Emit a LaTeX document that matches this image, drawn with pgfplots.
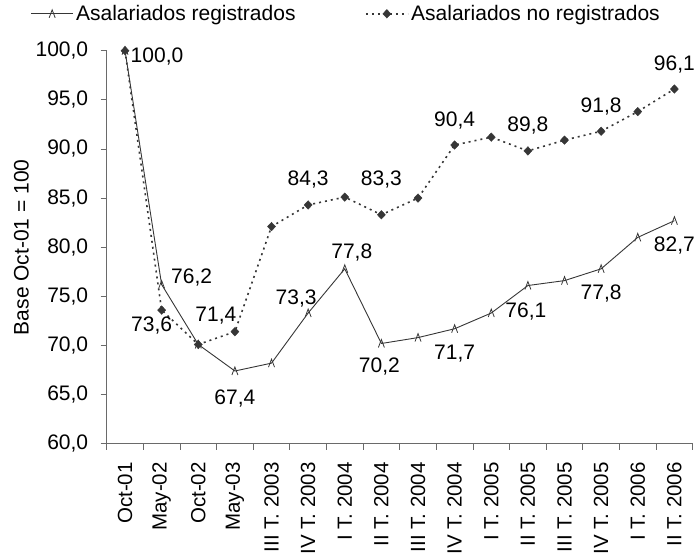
\documentclass[border=0pt]{standalone}
\usepackage{pgfplots}
\usepackage{pgfplotstable}
\usepackage{fontspec}
\setmainfont{Liberation Sans}
\pgfplotsset{compat=1.18}

\definecolor{lineg}{HTML}{363636}
\definecolor{axisg}{HTML}{6A6A6A}

% small open caret used for the registered series
\pgfdeclareplotmark{caret}{%
  \pgfpathmoveto{\pgfqpoint{-0.75\pgfplotmarksize}{-\pgfplotmarksize}}%
  \pgfpathlineto{\pgfqpoint{0pt}{\pgfplotmarksize}}%
  \pgfpathlineto{\pgfqpoint{0.75\pgfplotmarksize}{-\pgfplotmarksize}}%
  \pgfusepathqstroke}

% x = category, lab = data label ({} = none), dx/dy = label offset (pt)
\pgfplotstableread{
x  y     lab     dx   dy
0  100.0 {100,0} 32   -6
1  76.2  {76,2}  30   7
2  70.1  {}      0    0
3  67.4  {67,4}  0    -28
4  68.2  {}      0    0
5  73.3  {73,3}  -12  15
6  77.8  {77,8}  7    16
7  70.2  {70,2}  -2   -23
8  70.8  {}      0    0
9  71.7  {71,7}  0    -25
10 73.3  {}      0    0
11 76.1  {76,1}  -2   -26
12 76.6  {}      0    0
13 77.8  {77,8}  0    -25
14 81.0  {}      0    0
15 82.7  {82,7}  0    -25
}\registrados

\pgfplotstableread{
x  y     lab     dx   dy
0  100.0 {}      0    0
1  73.6  {73,6}  -10  -15
2  70.1  {}      0    0
3  71.4  {71,4}  -19  16
4  82.1  {}      0    0
5  84.3  {84,3}  0    25
6  85.1  {}      0    0
7  83.3  {83,3}  0    35
8  85.0  {}      0    0
9  90.4  {90,4}  0    25
10 91.2  {}      0    0
11 89.8  {89,8}  0    25
12 90.9  {}      0    0
13 91.8  {91,8}  0    25
14 93.8  {}      0    0
15 96.1  {96,1}  0    25
}\noregistrados

\begin{document}
\begin{tikzpicture}[font=\fontsize{21}{25}\selectfont]
\begin{axis}[
  width=586pt, height=393pt, scale only axis,
  xmin=-0.5, xmax=15.5, ymin=60, ymax=100,
  clip=false,
  axis x line*=bottom, axis y line*=left,
  axis line style={axisg, line width=0.8pt},
  tick align=outside,
  major tick length=6pt, minor tick length=6pt,
  tick style={axisg, line width=0.8pt},
  xtick={0,...,15},
  xticklabels={Oct-01, May-02, Oct-02, May-03, III T. 2003, IV T. 2003,
    I T. 2004, II T. 2004, III T. 2004, IV T. 2004, I T. 2005, II T. 2005,
    III T. 2005, IV T. 2005, I T. 2006, II T. 2006},
  major x tick style={draw=none},
  minor xtick={-0.5,0.5,...,15.5},
  xticklabel style={rotate=90, anchor=east, font=\fontsize{20.5}{24}\selectfont},
  xticklabel shift=9pt,
  ytick={60,65,...,100},
  yticklabel shift=9pt,
  /pgf/number format/.cd, fixed, fixed zerofill, precision=1, use comma,
    assume math mode=true,
  /pgfplots/.cd,
  ylabel={Base Oct-01 = 100},
  legend columns=2,
  legend cell align=left,
  legend style={draw=none, fill=none, at={(-0.130,1.122)}, anchor=north west,
    inner sep=0pt, nodes={inner sep=2.5pt},
    /tikz/every even column/.append style={column sep=67pt}},
  legend image code/.code={\draw[mark repeat=2, mark phase=2, #1]
    plot coordinates {(0pt,0pt) (21pt,0pt) (42pt,0pt)};},
  point meta=explicit symbolic,
  nodes near coords,
  visualization depends on={\thisrow{dx} \as \labdx},
  visualization depends on={\thisrow{dy} \as \labdy},
  nodes near coords style={anchor=center, text=black, inner sep=0pt,
    xshift=\labdx pt, yshift=\labdy pt},
]
\addplot[lineg, line width=0.9pt, mark=caret, mark size=4pt,
  mark options={solid, line width=0.8pt}]
  table[x=x, y=y, meta=lab] {\registrados};
\addlegendentry{Asalariados registrados}
\addplot[lineg, line width=1.6pt, dash pattern=on 2pt off 4pt,
  mark=diamond*, mark size=4.3pt,
  mark options={solid, xscale=1.25, fill=lineg, draw=lineg, line width=0.4pt}]
  table[x=x, y=y, meta=lab] {\noregistrados};
\addlegendentry{Asalariados no registrados}
\end{axis}
% frame the page as in the reference: 697 x 558 around the plot area
\pgfresetboundingbox
\path[use as bounding box]
  ([shift={(-106.7pt,-114pt)}]current axis.south west)
  rectangle ([shift={(4.3pt,50.7pt)}]current axis.north east);
\end{tikzpicture}
\end{document}
